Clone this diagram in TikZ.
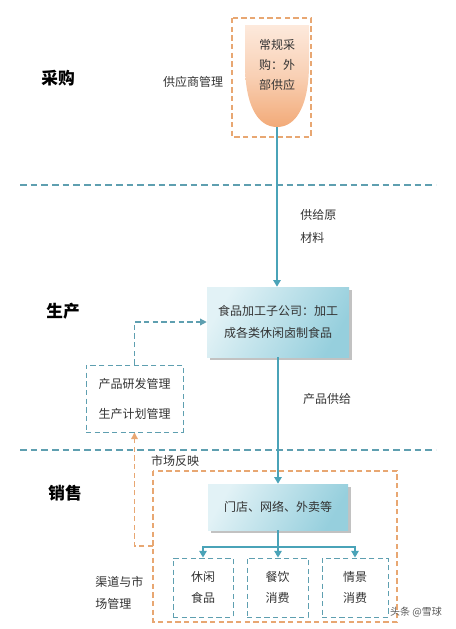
\documentclass[tikz,border=0pt]{standalone}
\usepackage{fontspec}
\setmainfont{Noto Sans CJK SC}
\usetikzlibrary{arrows.meta,shadows}
\definecolor{lineteal}{HTML}{4AA3B8}
\definecolor{dashteal}{HTML}{5E9FB0}
\definecolor{orng}{HTML}{E8A772}
\definecolor{txt}{HTML}{333333}
\definecolor{peachA}{HTML}{FDE9DC}
\definecolor{peachB}{HTML}{F2AA78}
\definecolor{blueA}{HTML}{E2F2F6}
\definecolor{blueB}{HTML}{96CFDD}
\tikzset{
  conn/.style={draw=lineteal, line width=1.3pt, -{Triangle[width=5.5pt,length=5pt]}},
  plainconn/.style={draw=lineteal, line width=1.3pt},
  dconn/.style={draw=dashteal, line width=0.9pt, dash pattern=on 4pt off 2.5pt, -{Triangle[width=5pt,length=5pt]}},
  oconn/.style={draw=orng, line width=0.9pt, dash pattern=on 4pt off 2.5pt, -{Triangle[width=5pt,length=5pt]}},
  sepline/.style={draw=dashteal, line width=0.8pt, dash pattern=on 5pt off 3pt},
  dbox/.style={draw=dashteal, line width=0.7pt, dash pattern=on 4pt off 2.5pt, inner sep=0pt},
  obox/.style={draw=orng, line width=0.8pt, dash pattern=on 4pt off 2.5pt},
  bluebox/.style={inner sep=0pt, left color=blueA, right color=blueB, shading angle=60,
     drop shadow={shadow xshift=2pt, shadow yshift=-2pt, fill=black!40, opacity=0.6}},
  lbl/.style={font=\fontsize{9}{16}\selectfont, text=txt, inner sep=0pt},
  head/.style={font=\fontsize{12.5}{14}\selectfont\bfseries, text=black, inner sep=0pt},
}
\begin{document}
\begin{tikzpicture}[x=0.75pt,y=-0.75pt]
\useasboundingbox (0,0) rectangle (456,629);

% section separators
\draw[sepline] (20,185) -- (436,185);
\draw[sepline] (20,450) -- (436,450);

% section headings
\node[head] (hcg) at (58,78) {采购};
\node[head] (hsc) at (63,311) {生产};
\node[head] (hxs) at (65,493) {销售};

% procurement
\draw[obox] (232,18) rectangle (311,137);
\shade[top color=peachA, bottom color=peachB, middle color=peachA!60!peachB]
  (245,25) -- (309,25) -- (309,64) .. controls (309,102) and (298,127) .. (277,127)
  .. controls (256,127) and (245,102) .. (245,64) -- cycle;
\coordinate (procbot) at (277,127);
\node[lbl, align=center, font=\fontsize{9}{15}\selectfont] (proc) at (277,65) {常规采\\购：外\\部供应};
\node[lbl] (gysgl) at (193,82) {供应商管理};

% production
\node[bluebox, minimum width=106.5pt, minimum height=52.5pt] (fac) at (278,322) {};
\node[lbl, align=center, font=\fontsize{9}{17}\selectfont] (factxt) at (fac.center) {食品加工子公司：加工\\成各类休闲卤制食品};
\node[lbl, align=left, anchor=west, font=\fontsize{9}{17}\selectfont] (gyycl) at (300,226.5) {供给原\\材料};
\draw[conn] (procbot) -- (fac.north -| procbot);

\node[dbox, minimum width=72.75pt, minimum height=50.25pt] (rd) at (134.5,398.5) {};
\node[lbl, align=center, font=\fontsize{9}{22.5}\selectfont] (rdtxt) at (rd.center) {产品研发管理\\生产计划管理};
\draw[dconn] (rd.north) |- (fac.west);

\node[lbl] (cpgj) at (327,399) {产品供给};

% sales
\node[lbl] (scfy) at (175,461) {市场反映};
\draw[obox] (153,471) rectangle (397,622);
\node[bluebox, minimum width=105pt, minimum height=34.5pt] (store) at (278,507) {};
\node[lbl] (storetxt) at (store.center) {门店、网络、外卖等};
\draw[conn] (fac.south) -- (store.north);

\node[dbox, minimum width=45pt, minimum height=44.25pt] (b1) at (203,587.5) {};
\node[dbox, minimum width=45.75pt, minimum height=44.25pt] (b2) at (277.5,587.5) {};
\node[dbox, minimum width=49.5pt, minimum height=44.25pt] (b3) at (355,587.5) {};
\node[lbl, align=center] (b1t) at (b1.center) {休闲\\食品};
\node[lbl, align=center] (b2t) at (b2.center) {餐饮\\消费};
\node[lbl, align=center] (b3t) at (b3.center) {情景\\消费};

\draw[plainconn] (store.south) -- ++(0,17) coordinate (br);
\draw[conn] (br) -| (b1.north);
\draw[conn] (br) -- (b2.north -| br);
\draw[conn] (br) -| (b3.north);

\coordinate (fb) at (153,546);
\draw[oconn] (fb) -| (rd.south);

\node[lbl, align=left, anchor=west] (qd) at (95,593) {渠道与市\\场管理};

\node[inner sep=0pt, font=\fontsize{7.5}{9}\selectfont, text=black!65] (wm) at (416,612) {头条 @雪球};
\end{tikzpicture}
\end{document}
